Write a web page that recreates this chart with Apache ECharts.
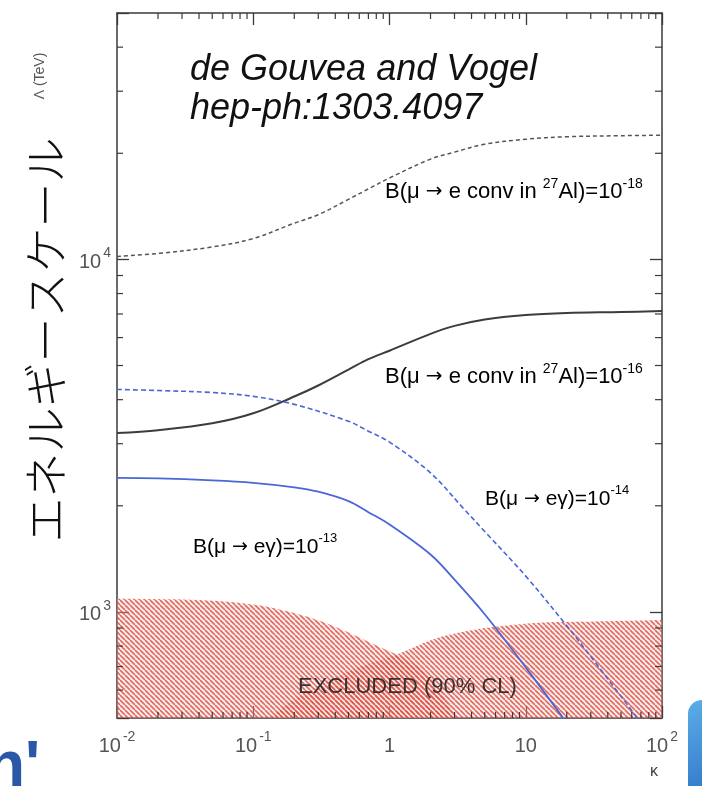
<!DOCTYPE html>
<html><head><meta charset="utf-8">
<script src="https://cdn.jsdelivr.net/npm/echarts@6/dist/echarts.min.js"></script>
<style>html,body{margin:0;padding:0;background:#fff}#c{width:702px;height:786px}</style>
</head><body><div id="c"></div>
<script>
// ---- data ----
const kappaConv = [0.01,0.02,0.05,0.1,0.2,0.3,0.5,0.7,1,2,3,5,10,20,50,100];
const lambdaConv18 = [10197,10396,10845,11460,12670,13390,14800,15850,17020,19250,20150,21220,21920,22280,22430,22500];
const lambdaConv16 = [3215,3278,3428,3659,4083,4388,4868,5212,5506,6147,6476,6754,6955,7046,7090,7138];
const kappaEg14 = [0.01,0.02,0.05,0.1,0.2,0.5,0.7,1,2,3.5,5,10,20,30,50,70];
const lambdaEg14 = [4276,4246,4191,4087,3879,3474,3256,3032,2480,1963,1691,1263,913,747,576,484];
const kappaEg13 = [0.01,0.02,0.05,0.1,0.2,0.3,0.5,0.7,1,2,3,5,10,20];
const lambdaEg13 = [2400,2393,2362,2324,2257,2192,2061,1918,1770,1455,1235,985,696,484];
const kappaExclA = [0.01,0.03,0.055,0.1,0.14,0.25,0.45,0.84,1.13,1.67,2.35,3.0,3.6];
const lambdaExclA = [1090,1085,1074,1050,1026,968,890,796,756,695,603,502,430];
const kappaExclB = [0.0946,0.137,0.186,0.336,0.618,1.135,2.05,3.83,7.04,12.7,23.4,100];
const lambdaExclB = [451,506,554,631,700,757,834,884,913,931,937,949];

const xMin = 0.01, xMax = 100, yMin = 500, yMax = 50000;
const xTickValues = [0.01,0.1,1,10,100];
const xTickBase = ['10','10','1','10','10'];
const xTickExp = ['-2','-1','','','2'];
const yTickValues = [1000,10000];
const yTickBase = ['10','10'];
const yTickExp = ['3','4'];
const xMinorTicks = [0.02,0.03,0.04,0.05,0.06,0.07,0.08,0.09,0.2,0.3,0.4,0.5,0.6,0.7,0.8,0.9,2,3,4,5,6,7,8,9,20,30,40,50,60,70,80,90];
const yMinorTicks = [600,700,800,900,2000,3000,4000,5000,6000,7000,8000,9000,20000,30000,40000];

const zip = (a,b) => a.map((v,i)=>[v,b[i]]);

// ---- styling ----
const axisColor = '#3a3a3a';
const labelColor = '#555';
const blue = '#4a66d8';
const FONT = '"Liberation Sans", Arial, sans-serif';

function hatch(){
  const s = 5, c = document.createElement('canvas');
  c.width = s; c.height = s;
  const g = c.getContext('2d');
  g.fillStyle = 'rgba(250,210,205,0.35)'; g.fillRect(0,0,s,s);
  g.strokeStyle = 'rgba(218,72,60,0.8)'; g.lineWidth = 1.6;
  for (const o of [-s,0,s]) { g.beginPath(); g.moveTo(o,0); g.lineTo(o+s,s); g.stroke(); }
  return c;
}
const hatchImg = hatch();

function tickFmt(values, base, exp){
  return function(v){
    for (let i=0;i<values.length;i++){
      if (Math.abs(Math.log10(v) - Math.log10(values[i])) < 1e-6){
        return exp[i] ? '{b|'+base[i]+'}{s|'+exp[i]+'}' : '{b|'+base[i]+'}';
      }
    }
    return '';
  };
}
const tickRich = {
  b: {fontFamily: FONT, fontSize: 20, color: labelColor, lineHeight: 26, verticalAlign: 'bottom'},
  s: {fontFamily: FONT, fontSize: 14, color: labelColor, lineHeight: 26, verticalAlign: 'top', padding:[0,0,0,2]}
};

function axisCommon(){
  return {
    type: 'log', logBase: 10,
    axisLine: {show: true, onZero: false, lineStyle: {color: axisColor, width: 1.5}},
    axisTick: {show: true, inside: true, length: 12, lineStyle: {color: axisColor, width: 1.3}},
    splitLine: {show: false}
  };
}

const xAxes = [
  Object.assign(axisCommon(), {position:'bottom', min:xMin, max:xMax,
    axisLabel: {show:true, margin: 12, formatter: tickFmt(xTickValues,xTickBase,xTickExp), rich: tickRich, showMinLabel: true, showMaxLabel: true}}),
  Object.assign(axisCommon(), {position:'top', min:xMin, max:xMax, axisLabel:{show:false}})
];
const yAxes = [
  Object.assign(axisCommon(), {position:'left', min:yMin, max:yMax,
    axisLabel: {show:true, margin: 6, formatter: tickFmt(yTickValues,yTickBase,yTickExp), rich: tickRich}}),
  Object.assign(axisCommon(), {position:'right', min:yMin, max:yMax, axisLabel:{show:false}})
];

function minorX(params, api){
  const v = api.value(0);
  const b = api.coord([v, yMin]), t = api.coord([v, yMax]);
  const st = {stroke: axisColor, lineWidth: 1.2};
  return {type:'group', children:[
    {type:'line', shape:{x1:b[0],y1:b[1],x2:b[0],y2:b[1]-6}, style:st},
    {type:'line', shape:{x1:t[0],y1:t[1],x2:t[0],y2:t[1]+6}, style:st}
  ]};
}
function minorY(params, api){
  const v = api.value(1);
  const l = api.coord([xMin, v]), r = api.coord([xMax, v]);
  const st = {stroke: axisColor, lineWidth: 1.2};
  return {type:'group', children:[
    {type:'line', shape:{x1:l[0],y1:l[1],x2:l[0]+6,y2:l[1]}, style:st},
    {type:'line', shape:{x1:r[0],y1:r[1],x2:r[0]-7,y2:r[1]}, style:st}
  ]};
}

const SMOOTH = 0.35;
const areaSeries = (name, data) => ({
  name, type:'line', data, symbol:'none', smooth:SMOOTH, z:1,
  lineStyle:{width:0, color:'rgba(0,0,0,0)'},
  areaStyle:{origin:'start', opacity:1, color:{image: hatchImg, repeat:'repeat'}}
});
const curve = (name, data, ls) => ({
  name, type:'line', data, symbol:'none', smooth:SMOOTH, z:3, lineStyle: ls
});

const ARROW_FONT = '"DejaVu Sans", sans-serif';
const labRich = (size, color) => ({
  t: {fontFamily: FONT, fontSize: size, color, lineHeight: 26, verticalAlign:'bottom'},
  a: {fontFamily: ARROW_FONT, fontSize: size-2, color, lineHeight: 26, verticalAlign:'bottom', padding:[0,0,1,0]},
  s: {fontFamily: FONT, fontSize: Math.round(size*0.62), color, lineHeight: 26, verticalAlign:'top'}
});
function label(x, y, text, size, color){
  return {type:'text', x, y, silent:true, z:50,
    style:{text, rich: labRich(size,color), verticalAlign:'middle', align:'left'}};
}

const chart = echarts.init(document.getElementById('c'), null, {renderer:'canvas'});
chart.setOption({
  animation:false,
  backgroundColor:'#fff',
  grid:{left:117, right:40, top:13, bottom:68, containLabel:false},
  xAxis: xAxes,
  yAxis: yAxes,
  series:[
    areaSeries('excludedA', zip(kappaExclA, lambdaExclA)),
    areaSeries('excludedB', zip(kappaExclB, lambdaExclB)),
    curve('conv18', zip(kappaConv, lambdaConv18), {color:'#555', width:1.5, type:[4,3]}),
    curve('conv16', zip(kappaConv, lambdaConv16), {color:'#3c3c3c', width:2}),
    curve('eg14', zip(kappaEg14, lambdaEg14), {color:blue, width:1.6, type:[5,3]}),
    curve('eg13', zip(kappaEg13, lambdaEg13), {color:blue, width:1.8}),
    {name:'minorX', type:'custom', renderItem:minorX, data: xMinorTicks.map(v=>[v,yMin]), silent:true, clip:false, z:6},
    {name:'minorY', type:'custom', renderItem:minorY, data: yMinorTicks.map(v=>[xMin,v]), silent:true, clip:false, z:6}
  ],
  graphic:[
    {type:'text', x:190, y:70, silent:true, style:{text:'de Gouvea and Vogel', font:'italic 36px '+FONT, fill:'#111', verticalAlign:'middle'}},
    {type:'text', x:190, y:109, silent:true, style:{text:'hep-ph:1303.4097', font:'italic 36px '+FONT, fill:'#111', verticalAlign:'middle'}},
    label(385, 190, '{t|B(μ }{a|→}{t| e conv in }{s|27}{t|Al)=10}{s|-18}', 22, '#333'),
    label(385, 375, '{t|B(μ }{a|→}{t| e conv in }{s|27}{t|Al)=10}{s|-16}', 22, '#333'),
    label(485, 497, '{t|B(μ }{a|→}{t| eγ)=10}{s|-14}', 21, blue),
    label(193, 545, '{t|B(μ }{a|→}{t| eγ)=10}{s|-13}', 21, blue),
    {type:'text', x:298, y:687, silent:true, z:50, style:{text:'EXCLUDED (90% CL)', font:'22px '+FONT, fill:'#333', verticalAlign:'middle'}},
    {type:'text', x:650, y:772, silent:true, style:{text:'κ', font:'16px '+FONT, fill:'#444', verticalAlign:'middle'}},
    {type:'text', x:40, y:76, rotation:Math.PI/2, silent:true, style:{text:'Λ (TeV)', font:'14px '+FONT, fill:labelColor, align:'center', verticalAlign:'middle'}},
    {type:'text', x:46, y:340, rotation:Math.PI/2, silent:true, style:{text:'エネルギースケール', font:'300 45px "Noto Sans CJK JP", sans-serif', fill:'#111', align:'center', verticalAlign:'middle'}},
    {type:'text', x:-14, y:768, silent:true, style:{text:"n'", font:'bold 64px '+FONT, fill:'#2a57a8', verticalAlign:'middle'}},
    {type:'rect', x:688, y:700, shape:{width:40, height:110, r:14}, silent:true,
      style:{fill:{type:'linear', x:0, y:0, x2:1, y2:1, colorStops:[{offset:0,color:'#5aaee8'},{offset:1,color:'#2b6cc4'}]}}}
  ]
});
</script></body></html>
